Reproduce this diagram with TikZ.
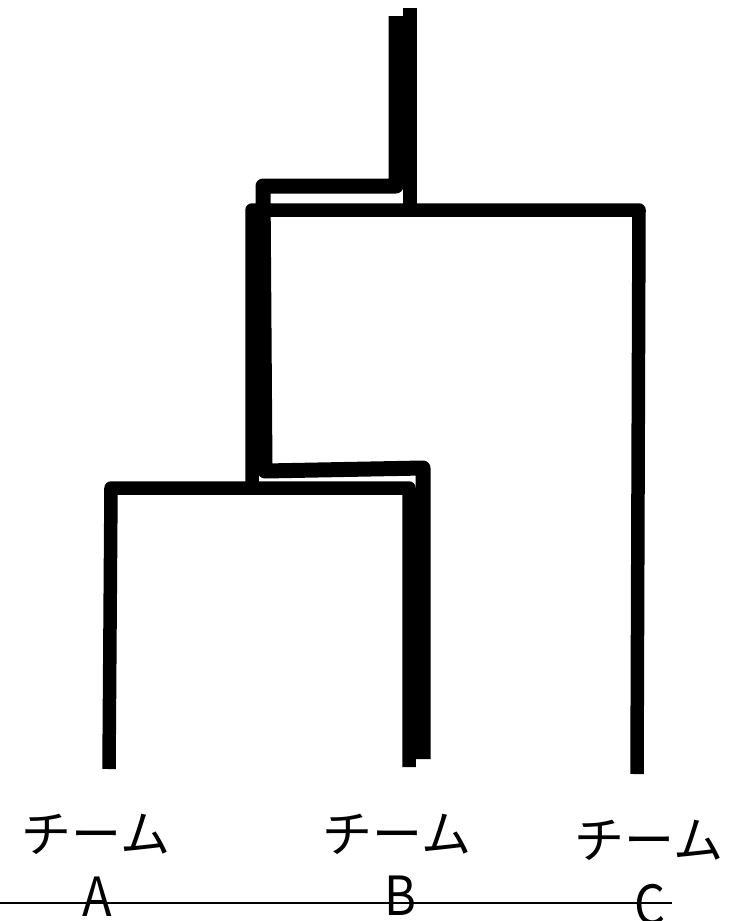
\documentclass[tikz,border=0pt]{standalone}
\usepackage{fontspec}
\setmainfont{Noto Sans CJK JP}
\begin{document}
\begin{tikzpicture}[x=1pt,y=-1pt,
  tree/.style={line width=13.5pt, line join=round, line cap=butt},
  overlay2/.style={line width=15pt, line join=round, line cap=butt},
  lab/.style={anchor=base, inner sep=0pt, font=\fontsize{50}{60}\selectfont},
  letter/.style={anchor=base, inner sep=0pt, font=\fontsize{54}{60}\selectfont, xscale=0.9},
  base/.style={line width=1.5pt}]
\useasboundingbox (0,0) rectangle (735,921);
% main dendrogram
\coordinate (root) at (410,8);
\coordinate (top) at (410,210);
\coordinate (lj) at (252,210);
\coordinate (rj) at (639,210);
\coordinate (leafC) at (637,774);
\coordinate (sub) at (252,488);
\coordinate (subL) at (111,488);
\coordinate (subR) at (409,488);
\coordinate (leafA) at (109,769);
\coordinate (leafB) at (409,767);
% second stroke
\coordinate (r2) at (396,16);
\coordinate (c1) at (396,186);
\coordinate (c2) at (263,186);
\coordinate (c3) at (265,471);
\coordinate (c4) at (423,468);
\coordinate (leafB2) at (423,759);
\draw[tree] (root) -- (top);
\draw[tree] (sub) -- (lj) -- (rj) -- (leafC);
\draw[tree] (leafA) -- (subL) -- (subR) -- (leafB);
\draw[overlay2] (r2) -- (c1) -- (c2) -- (c3) -- (c4) -- (leafB2);
% labels
\node[lab] (tA) at (96,852) {チーム};
\node[letter] (lA) at (97,916) {A};
\node[lab] (tB) at (397,852) {チーム};
\node[letter] (lB) at (400,915) {B};
\node[lab] (tC) at (649,858) {チーム};
\node[letter] (lC) at (650,924) {C};
\coordinate (b0) at (0,903);
\coordinate (b1) at (672,903);
\draw[base] (b0) -- (b1);
\end{tikzpicture}
\end{document}
